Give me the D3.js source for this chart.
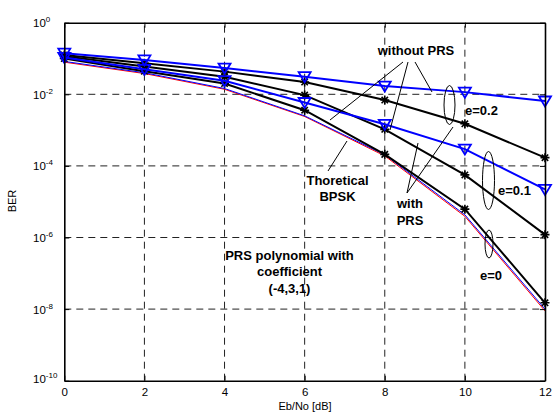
<!DOCTYPE html>
<html>
<head>
<meta charset="utf-8">
<script src="https://d3js.org/d3.v7.min.js"></script>
<style>
body { margin: 0; background: #fff; }
svg text { font-family: Arial, "Liberation Sans", sans-serif; fill: #000; }
</style>
</head>
<body>
<script>
// Eb/No points and BER
var ebno = [0, 2, 4, 6, 8, 10, 12];
var noPrsE02 = [0.141, 0.091, 0.054, 0.031, 0.017, 0.0115, 0.0065];   // blue, triangles
var prsE02   = [0.126, 0.074, 0.043, 0.022, 0.0069, 1.5e-3, 1.7e-4];  // black, stars
var prsE01   = [0.115, 0.060, 0.031, 9.5e-3, 1.05e-3, 5.6e-5, 1.2e-6];
var noPrsE01 = [0.107, 0.050, 0.024, 5.9e-3, 1.45e-3, 2.95e-4, 2.2e-5];
var prsE0    = [0.100, 0.044, 0.020, 3.6e-3, 2.1e-4, 6.2e-6, 1.5e-8];
var theoryRed  = [0.079, 0.038, 0.0138, 2.4e-3, 1.9e-4, 3.9e-6, 8.9e-9];
var theoryBlue = [0.083, 0.040, 0.0145, 2.5e-3, 2.05e-4, 4.3e-6, 1.0e-8];

var xTicks = [0, 2, 4, 6, 8, 10, 12];
var yExps = [0, -2, -4, -6, -8, -10];

var width = 559, height = 416;
var svg = d3.select('body').append('svg')
  .attr('width', width)
  .attr('height', height);

var x = d3.scaleLinear().domain([0, 12]).range([64.3, 545]);
var y = d3.scaleLog().domain([1e-10, 1]).range([380.7, 22.7]);

// dashed grid
var grid = svg.append('g')
  .attr('stroke', '#222')
  .attr('stroke-width', 1)
  .attr('stroke-dasharray', '7,5');
grid.selectAll('line.vx')
  .data(xTicks.slice(1, -1))
  .enter().append('line')
  .attr('x1', function(d){ return x(d); })
  .attr('x2', function(d){ return x(d); })
  .attr('y1', y(1e-10))
  .attr('y2', y(1));
grid.selectAll('line.hy')
  .data(yExps.slice(1, -1))
  .enter().append('line')
  .attr('x1', x(0))
  .attr('x2', x(12))
  .attr('y1', function(d){ return y(Math.pow(10, d)); })
  .attr('y2', function(d){ return y(Math.pow(10, d)); });

function pairs(vals) {
  return vals.map(function(v, i){ return [ebno[i], v]; });
}

var line = d3.line()
  .x(function(d){ return x(d[0]); })
  .y(function(d){ return y(d[1]); });

var series = [
  { vals: theoryRed,  color: '#ff0000', w: 1,   marker: null },
  { vals: theoryBlue, color: '#0000ff', w: 1,   marker: null },
  { vals: prsE0,      color: '#000000', w: 2,   marker: 'star' },
  { vals: prsE01,     color: '#000000', w: 2,   marker: 'star' },
  { vals: prsE02,     color: '#000000', w: 2,   marker: 'star' },
  { vals: noPrsE01,   color: '#0000ff', w: 2,   marker: 'tri' },
  { vals: noPrsE02,   color: '#0000ff', w: 2,   marker: 'tri' }
];

var markerPath = {
  star: 'M-4.5,0H4.5M0,-4.5V4.5M-3.2,-3.2L3.2,3.2M-3.2,3.2L3.2,-3.2',
  tri: 'M-6,-4.5L6,-4.5L0,5.5Z'
};

series.forEach(function(s){
  var pts = pairs(s.vals);
  svg.append('path')
    .attr('d', line(pts))
    .attr('fill', 'none')
    .attr('stroke', s.color)
    .attr('stroke-width', s.w);
  if (s.marker) {
    svg.selectAll(null)
      .data(pts)
      .enter().append('path')
      .attr('transform', function(d){ return 'translate(' + x(d[0]) + ',' + y(d[1]) + ')'; })
      .attr('d', markerPath[s.marker])
      .attr('fill', 'none')
      .attr('stroke', s.color)
      .attr('stroke-width', s.marker == 'star' ? 1.6 : 1.8);
  }
});

// axes box, ticks pointing inward
var xb = svg.append('g').attr('transform', 'translate(0,' + y(1e-10) + ')')
  .call(d3.axisBottom(x).tickValues(xTicks).tickSize(-5).tickSizeOuter(0).tickPadding(7));
var xt = svg.append('g').attr('transform', 'translate(0,' + y(1) + ')')
  .call(d3.axisTop(x).tickValues(xTicks).tickSize(-5).tickSizeOuter(0).tickFormat(''));
var yl = svg.append('g').attr('transform', 'translate(' + x(0) + ',0)')
  .call(d3.axisLeft(y).tickValues(yExps.map(function(e){ return Math.pow(10, e); }))
    .tickSize(-5).tickSizeOuter(0).tickFormat(''));
var yr = svg.append('g').attr('transform', 'translate(' + x(12) + ',0)')
  .call(d3.axisRight(y).tickValues(yExps.map(function(e){ return Math.pow(10, e); }))
    .tickSize(-5).tickSizeOuter(0).tickFormat(''));

[xb, xt, yl, yr].forEach(function(g){
  g.select('.domain').attr('stroke', '#000').attr('stroke-width', 1.6);
  g.selectAll('.tick line').attr('stroke', '#000').attr('stroke-width', 1);
});
xb.selectAll('.tick text')
  .attr('font-size', '11.5px')
  .attr('fill', '#000')
  .style('font-family', 'Arial, "Liberation Sans", sans-serif');

// y tick labels 10^e
var ylab = svg.append('g');
yExps.forEach(function(e){
  var t = ylab.append('text')
    .attr('x', 33)
    .attr('y', y(Math.pow(10, e)) + (e == -10 ? 2.5 : 4.5))
    .attr('font-size', '11.5px');
  t.append('tspan').text('10');
  t.append('tspan')
    .attr('dy', -5)
    .attr('font-size', '8px')
    .text(e);
});

svg.append('text')
  .attr('x', 305)
  .attr('y', 410)
  .attr('text-anchor', 'middle')
  .attr('font-size', '11px')
  .text('Eb/No [dB]');

svg.append('text')
  .attr('transform', 'translate(16,201) rotate(-90)')
  .attr('text-anchor', 'middle')
  .attr('font-size', '11px')
  .text('BER');

// annotations
var ann = svg.append('g').attr('stroke', '#000').attr('stroke-width', 1).attr('fill', 'none');
var pointers = [
  [403, 62, 330, 120],
  [408, 62, 390, 130],
  [415, 62, 432, 92],
  [328, 171, 347, 141],
  [407, 193, 418, 143],
  [407, 193, 453, 127]
];
ann.selectAll('line')
  .data(pointers)
  .enter().append('line')
  .attr('x1', function(d){ return d[0]; })
  .attr('y1', function(d){ return d[1]; })
  .attr('x2', function(d){ return d[2]; })
  .attr('y2', function(d){ return d[3]; });

var rings = [
  [449.5, 105, 5.5, 19.5],
  [488.5, 180.5, 6, 29],
  [489, 244, 4, 14]
];
ann.selectAll('ellipse')
  .data(rings)
  .enter().append('ellipse')
  .attr('cx', function(d){ return d[0]; })
  .attr('cy', function(d){ return d[1]; })
  .attr('rx', function(d){ return d[2]; })
  .attr('ry', function(d){ return d[3]; });

var notes = [
  ['without PRS', 416, 55, 'middle'],
  ['Thoretical', 337.5, 184.5, 'middle'],
  ['BPSK', 337.5, 200.5, 'middle'],
  ['with', 410, 207.5, 'middle'],
  ['PRS', 410, 224.5, 'middle'],
  ['e=0.2', 465, 114.5, 'start'],
  ['e=0.1', 498, 194.5, 'start'],
  ['e=0', 480, 279.5, 'start'],
  ['PRS polynomial with', 289.5, 259.5, 'middle'],
  ['coefficient', 289.5, 276, 'middle'],
  ['(-4,3,1)', 289.5, 292.5, 'middle']
];
svg.selectAll('text.note')
  .data(notes)
  .enter().append('text')
  .attr('class', 'note')
  .attr('x', function(d){ return d[1]; })
  .attr('y', function(d){ return d[2]; })
  .attr('text-anchor', function(d){ return d[3]; })
  .attr('font-size', '13px')
  .attr('font-weight', 'bold')
  .text(function(d){ return d[0]; });
</script>
</body>
</html>
